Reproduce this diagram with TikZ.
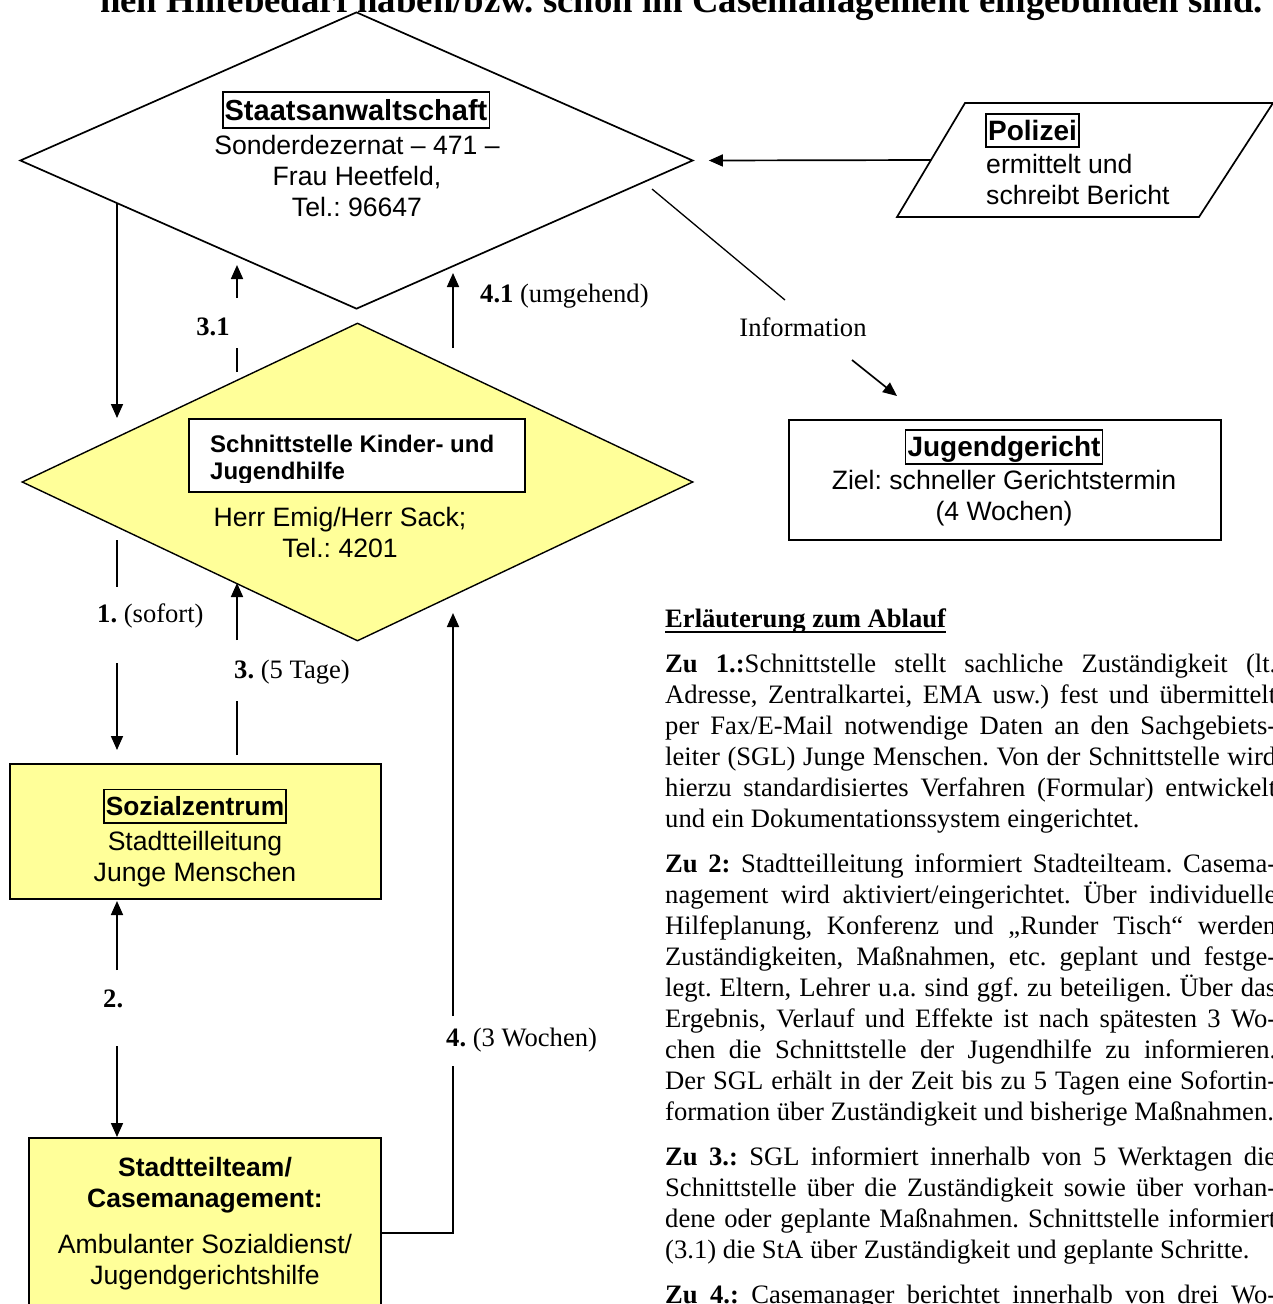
\documentclass[tikz,border=0pt]{standalone}
\usepackage{fontspec}
\setmainfont{Liberation Serif}
\newfontfamily\arial{Liberation Sans}
\usetikzlibrary{shapes.geometric,arrows.meta}
\definecolor{lyel}{RGB}{255,255,153}
\frenchspacing
\newcommand\tfs{\fontsize{26.6}{31}\selectfont}
\newcommand\afs{\arial\fontsize{26.6}{31}\selectfont}
\newcommand\ml[1]{\begin{tabular}[t]{@{}c@{}}#1\end{tabular}}
\newcommand\mll[1]{\begin{tabular}[t]{@{}l@{}}#1\end{tabular}}
\newcommand\ulbf[1]{\setbox0\hbox{\textbf{#1}}\rlap{\rule[-6pt]{\wd0}{1.8pt}}\box0}
\tikzset{
  ln/.style={line width=1.7pt},
  arr/.style={line width=1.7pt, -{Triangle[length=14pt,width=12pt]}},
  tb/.style 2 args={draw, line width=1.7pt, inner xsep=2pt, inner ysep=1.5pt, text height=#1, text depth=#2},
  lab/.style={font=\tfs, inner sep=0},
  txt/.style={font=\afs, inner sep=0},
}
\begin{document}
\begin{tikzpicture}[x=1pt,y=-1pt]
\useasboundingbox (0,0) rectangle (1273,1304);
\clip (0,0) rectangle (1273,1304);

% title (cut at top)
\node[anchor=base west, inner sep=0, font=\bfseries\fontsize{36.75}{40}\selectfont] (title) at (100,12) {hen Hilfebedarf haben/bzw. schon im Casemanagement eingebunden sind.};

% Staatsanwaltschaft diamond
\node[diamond, draw, ln, minimum width=673pt, minimum height=297pt, inner sep=0] (sta) at (356.5,160.5) {};
\node[tb={26.5pt}{6.4pt}, font=\arial\bfseries\fontsize{29}{31}\selectfont] (staT) at (356,110) {Staatsanwaltschaft};
\node[txt, anchor=base] (staL) at (357,154) {\ml{Sonderdezernat – 471 –\\Frau Heetfeld,\\Tel.: 96647}};

% Polizei parallelogram
\coordinate (pTL) at (965,103);
\coordinate (pTR) at (1273,103);
\coordinate (pBR) at (1199,217);
\coordinate (pBL) at (897,217);
\draw[ln] (pTL) -- (pTR) -- (pBR) -- (pBL) -- cycle;
\coordinate (polOut) at (931,160);
\node[tb={25pt}{5.6pt}, font=\arial\bfseries\fontsize{28}{31}\selectfont] (polT) at (1032.5,130.5) {Polizei};
\node[txt, anchor=base west] (polL) at (986,173) {\mll{ermittelt und\\schreibt Bericht}};

% Jugendgericht
\node[draw, ln, minimum width=432pt, minimum height=120pt, inner sep=0] (jg) at (1005,480) {};
\node[tb={25pt}{5.6pt}, font=\arial\bfseries\fontsize{28}{31}\selectfont] (jgT) at (1004,447) {Jugendgericht};
\node[txt, anchor=base] (jgL) at (1004,489) {\ml{Ziel: schneller Gerichtstermin\\(4 Wochen)}};

% Schnittstelle diamond
\node[diamond, draw, line width=1.4pt, fill=lyel, minimum width=671pt, minimum height=318pt, inner sep=0] (sks) at (357.5,482) {};
\node[draw, fill=white, line width=1.5pt, minimum width=336pt, minimum height=73pt, inner sep=0] (skBox) at (357,455.5) {};
\begin{scope}
  \clip (191,421) rectangle (523,482);
  \node[inner sep=0, anchor=base west, font=\arial\bfseries\fontsize{24}{27}\selectfont] (skT) at (210,452) {\mll{Schnittstelle Kinder- und\\Jugendhilfe}};
\end{scope}
\node[txt, anchor=base] (skL) at (340,526) {\ml{Herr Emig/Herr Sack;\\Tel.: 4201}};

% Sozialzentrum
\node[draw, ln, fill=lyel, minimum width=371pt, minimum height=135pt, inner sep=0] (soz) at (195.5,831.5) {};
\node[tb={24.5pt}{5.8pt}, font=\arial\bfseries\fontsize{26.3}{31}\selectfont] (sozT) at (195,806) {Sozialzentrum};
\node[txt, anchor=base] (sozL) at (195,850) {\ml{Stadtteilleitung\\Junge Menschen}};

% Stadtteilteam
\node[draw, ln, fill=lyel, minimum width=352pt, minimum height=200pt, inner sep=0] (stt) at (205,1238) {};
\node[inner sep=0, anchor=base, font=\arial\bfseries\fontsize{26.5}{31}\selectfont] (sttT) at (205,1176) {\ml{Stadtteilteam/\\Casemanagement:}};
\node[txt, anchor=base] (sttL) at (205,1253) {\ml{Ambulanter Sozialdienst/\\Jugendgerichtshilfe}};

% connectors
\draw[arr] (polOut) -- ([xshift=15pt]sta.east);

\coordinate (inA) at (652,189);
\coordinate (inB) at (785,300);
\coordinate (inC) at (852,360);
\coordinate (inD) at (897,396);
\draw[line width=1.3pt] (inA) -- (inB);
\node[lab, anchor=base] (info) at (803,336) {Information};
\draw[arr] (inC) -- (inD);

\coordinate (lA) at (117,203);
\coordinate (lB) at (117,418);
\draw[arr] (lA) -- (lB);

\coordinate (a31a) at (237,372);
\coordinate (a31b) at (237,348);
\coordinate (a31c) at (237,298);
\coordinate (a31d) at (237,265);
\draw[ln] (a31a) -- (a31b);
\draw[arr] (a31c) -- (a31d);
\node[lab, anchor=base, font=\tfs\bfseries] (l31) at (213,335) {3.1};

\coordinate (a41a) at (453,348);
\coordinate (a41b) at (453,273);
\draw[arr] (a41a) -- (a41b);
\node[lab, anchor=base west] (l41) at (480,302) {\textbf{4.1} (umgehend)};

\coordinate (a1a) at (117,540);
\coordinate (a1b) at (117,587);
\coordinate (a1c) at (117,663);
\coordinate (a1d) at (117,750);
\draw[ln] (a1a) -- (a1b);
\draw[arr] (a1c) -- (a1d);
\node[lab, anchor=base west] (l1) at (97,622) {\textbf{1.} (sofort)};

\coordinate (a3a) at (237,755);
\coordinate (a3b) at (237,701);
\coordinate (a3c) at (237,640);
\coordinate (a3d) at (237,583);
\draw[ln] (a3a) -- (a3b);
\draw[arr] (a3c) -- (a3d);
\node[lab, anchor=base west] (l3) at (234,678) {\textbf{3.} (5 Tage)};

\coordinate (a2a) at (117,970);
\coordinate (a2b) at (117,901);
\coordinate (a2c) at (117,1046);
\coordinate (a2d) at (117,1137);
\draw[arr] (a2a) -- (a2b);
\draw[arr] (a2c) -- (a2d);
\node[lab, anchor=base west] (l2) at (103,1007) {\textbf{2.}};

\coordinate (a4a) at (381,1233);
\coordinate (a4b) at (453,1233);
\coordinate (a4c) at (453,1066);
\coordinate (a4d) at (453,1016);
\coordinate (a4e) at (453,613);
\draw[ln] (a4a) -- (a4b) -- (a4c);
\draw[arr] (a4d) -- (a4e);
\node[lab, anchor=base west] (l4) at (446,1046) {\textbf{4.} (3 Wochen)};

% explanation text
\node[anchor=north west, inner sep=0, text width=611pt, align=justify, font=\tfs] (erl) at (665,601) {%
\parindent=0pt\parskip=14pt\hyphenpenalty=10000\exhyphenpenalty=10000\tolerance=10000%
\rule{0pt}{26pt}\ulbf{Erläuterung zum Ablauf}\par
\textbf{Zu 1.:}Schnittstelle stellt sachliche Zuständigkeit (lt.\linebreak
Adresse, Zentralkartei, EMA usw.) fest und übermittelt\linebreak
per Fax/E-Mail notwendige Daten an den Sachgebiets-\linebreak
leiter (SGL) Junge Menschen. Von der Schnittstelle wird\linebreak
hierzu standardisiertes Verfahren (Formular) entwickelt\linebreak
und ein Dokumentationssystem eingerichtet.\par
\textbf{Zu 2:} Stadtteilleitung informiert Stadteilteam. Casema-\linebreak
nagement wird aktiviert/eingerichtet. Über individuelle\linebreak
Hilfeplanung, Konferenz und „Runder Tisch“ werden\linebreak
Zuständigkeiten, Maßnahmen, etc. geplant und festge-\linebreak
legt. Eltern, Lehrer u.a. sind ggf. zu beteiligen. Über das\linebreak
Ergebnis, Verlauf und Effekte ist nach spätesten 3 Wo-\linebreak
chen die Schnittstelle der Jugendhilfe zu informieren.\linebreak
Der SGL erhält in der Zeit bis zu 5 Tagen eine Sofortin-\linebreak
formation über Zuständigkeit und bisherige Maßnahmen.\par
\textbf{Zu 3.:} SGL informiert innerhalb von 5 Werktagen die\linebreak
Schnittstelle über die Zuständigkeit sowie über vorhan-\linebreak
dene oder geplante Maßnahmen. Schnittstelle informiert\linebreak
(3.1) die StA über Zuständigkeit und geplante Schritte.\par
\parfillskip=0pt
\textbf{Zu 4.:} Casemanager berichtet innerhalb von drei Wo-\par};
\end{tikzpicture}
\end{document}
